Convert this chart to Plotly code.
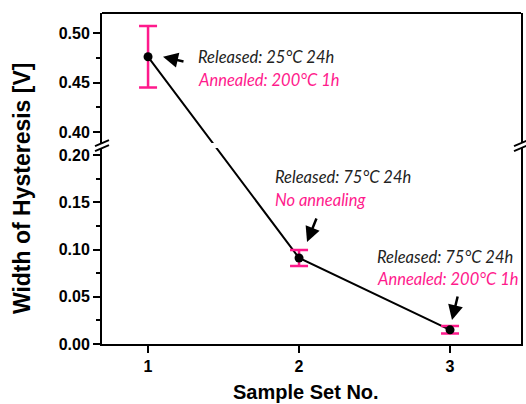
import plotly.graph_objects as go

# Measured hysteresis width per sample set
sample_set = [1, 2, 3]
hysteresis_width = [0.476, 0.091, 0.015]
hysteresis_err = [0.031, 0.0085, 0.004]

# Process conditions attached to each sample set
release_labels = ["Released: 25°C 24h", "Released: 75°C 24h", "Released: 75°C 24h"]
anneal_labels = ["Annealed: 200°C 1h", "No annealing", "Annealed: 200°C 1h"]

x_ticks = [1, 2, 3]
lower_ticks = [0.00, 0.05, 0.10, 0.15, 0.20]
upper_ticks = [0.40, 0.45, 0.50]

# Broken y axis: two stacked segments
LOWER_RANGE = [0.0, 0.2074]
UPPER_RANGE = [0.3889, 0.5202]
LOWER_DOMAIN = [0.0, 0.592]
UPPER_DOMAIN = [0.607, 1.0]
X_RANGE = [0.695, 3.47]

PINK = "#FF1A8C"
BLACK = "#000000"


def to_paper(v, rng, dom):
    return dom[0] + (v - rng[0]) / (rng[1] - rng[0]) * (dom[1] - dom[0])


def from_paper(f, rng, dom):
    return rng[0] + (f - dom[0]) / (dom[1] - dom[0]) * (rng[1] - rng[0])


in_upper = [v >= UPPER_RANGE[0] for v in hysteresis_width]

# Express every point in each segment's coordinates so the connecting line
# stays straight across the break (each part is clipped to its own segment)
upper_coords, lower_coords = [], []
for v, up in zip(hysteresis_width, in_upper):
    if up:
        upper_coords.append(v)
        lower_coords.append(from_paper(to_paper(v, UPPER_RANGE, UPPER_DOMAIN), LOWER_RANGE, LOWER_DOMAIN))
    else:
        lower_coords.append(v)
        upper_coords.append(from_paper(to_paper(v, LOWER_RANGE, LOWER_DOMAIN), UPPER_RANGE, UPPER_DOMAIN))

fig = go.Figure()

for ys, yax in ((upper_coords, "y2"), (lower_coords, "y")):
    fig.add_trace(go.Scatter(
        x=sample_set, y=ys, yaxis=yax, mode="lines",
        line=dict(color=BLACK, width=2), hoverinfo="skip", showlegend=False,
    ))

for want_upper, yax in ((True, "y2"), (False, "y")):
    xs = [x for x, up in zip(sample_set, in_upper) if up == want_upper]
    ys = [v for v, up in zip(hysteresis_width, in_upper) if up == want_upper]
    es = [e for e, up in zip(hysteresis_err, in_upper) if up == want_upper]
    fig.add_trace(go.Scatter(
        x=xs, y=ys, yaxis=yax, mode="markers",
        marker=dict(color=BLACK, size=9, symbol="circle"),
        error_y=dict(type="data", array=es, visible=True, color=PINK,
                     thickness=2.5, width=9),
        showlegend=False,
    ))

tick_font = dict(family="Liberation Sans, Arial", size=16, color=BLACK, weight="bold")
axis_common = dict(
    showgrid=False, zeroline=False, showline=True, linecolor=BLACK, linewidth=2,
    ticks="outside", ticklen=7, tickwidth=1.5, tickcolor=BLACK, tickfont=tick_font,
    mirror=True,
)

fig.update_layout(
    width=526, height=404,
    margin=dict(l=102, r=3, t=13, b=60),
    paper_bgcolor="white", plot_bgcolor="white",
    xaxis=dict(range=X_RANGE, tickvals=x_ticks, anchor="y", **{k: v for k, v in axis_common.items() if k != "mirror"}),
    yaxis=dict(range=LOWER_RANGE, domain=LOWER_DOMAIN, tickvals=lower_ticks, tickformat=".2f",
               minor=dict(dtick=0.025, tick0=0, ticks="outside", ticklen=4, tickwidth=1.5, tickcolor=BLACK),
               anchor="x", **axis_common),
    yaxis2=dict(range=UPPER_RANGE, domain=UPPER_DOMAIN, tickvals=upper_ticks, tickformat=".2f",
                minor=dict(dtick=0.025, tick0=0, ticks="outside", ticklen=4, tickwidth=1.5, tickcolor=BLACK),
                anchor="x", **axis_common),
)

# Frame top edge
fig.add_shape(type="line", xref="paper", yref="paper", x0=0, x1=1, y0=1, y1=1,
              line=dict(color=BLACK, width=2))

# Break marks on both vertical edges
break_y = (LOWER_DOMAIN[1] + UPPER_DOMAIN[0]) / 2
for edge in (0, 1):
    for dy in (-2.5, 2.5):
        fig.add_shape(type="line", xref="paper", yref="paper",
                      xsizemode="pixel", ysizemode="pixel",
                      xanchor=edge, yanchor=break_y,
                      x0=-7, x1=7, y0=dy - 3, y1=dy + 3,
                      line=dict(color=BLACK, width=1.8))

# Condition labels next to each point
label_x = [1.318, 1.828, 2.505]
label_y = [(0.476, 0.4525), (0.1767, 0.1524), (0.092, 0.0688)]
label_axis = ["y2", "y", "y"]
note_font = dict(family="Lato", size=16.5, style="italic")
for rel, ann, lx, (ry, ay_), yax in zip(release_labels, anneal_labels, label_x, label_y, label_axis):
    fig.add_annotation(x=lx, y=ry, xref="x", yref=yax, text=rel, showarrow=False,
                       xanchor="left", yanchor="middle", font=dict(color="#222222", **note_font))
    fig.add_annotation(x=lx, y=ay_, xref="x", yref=yax, text=ann, showarrow=False,
                       xanchor="left", yanchor="middle", font=dict(color=PINK, **note_font))

# Arrows pointing at the data points
arrow_x = [1.099, 2.053, 3.013]
arrow_y = [0.476, 0.108, 0.0254]
arrow_off = [(22, 5), (10, -25), (6, -25)]
for axx, ayy, (ox, oy), yax in zip(arrow_x, arrow_y, arrow_off, label_axis):
    fig.add_annotation(x=axx, y=ayy, xref="x", yref=yax, ax=ox, ay=oy, text="",
                       showarrow=True, arrowhead=2, arrowsize=1.2, arrowwidth=2.5,
                       arrowcolor=BLACK)

title_font = dict(family="Liberation Sans, Arial", size=23, color=BLACK, weight="bold")
fig.add_annotation(text="Width of Hysteresis [V]", xref="paper", yref="paper",
                   x=0, y=0.471, xshift=-80, textangle=-90, showarrow=False,
                   xanchor="center", yanchor="middle", font=title_font)
fig.add_annotation(text="Sample Set No.", xref="paper", yref="paper",
                   x=0.487, y=-0.145, showarrow=False,
                   xanchor="center", yanchor="middle",
                   font=dict(title_font, size=20))

fig.write_html("out.html")
